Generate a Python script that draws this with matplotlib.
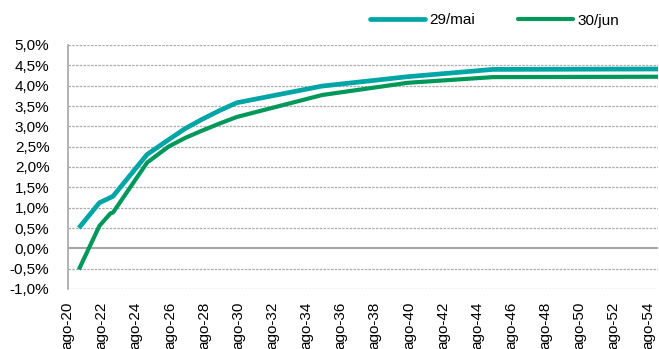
import matplotlib
matplotlib.use("Agg")
import matplotlib.pyplot as plt
from matplotlib.lines import Line2D

plt.rcParams['font.family'] = ['Liberation Sans', 'DejaVu Sans']

# maturities as decimal years (ago-20 = Aug 2020)
dates = [2021.25, 2022.45, 2023.10, 2023.25, 2025.25, 2026.5, 2027.5, 2028.5,
         2029.5, 2030.5, 2035.5, 2040.5, 2045.5, 2055.5]
mai29 = [0.50, 1.12, 1.25, 1.28, 2.31, 2.67, 2.95, 3.18, 3.39, 3.58, 3.99, 4.22, 4.40, 4.41]
jun30 = [-0.52, 0.55, 0.86, 0.88, 2.11, 2.50, 2.72, 2.90, 3.07, 3.23, 3.77, 4.07, 4.21, 4.22]

tick_years = list(range(2020, 2056, 2))
tick_labels = [f"ago-{y % 100:02d}" for y in tick_years]
yticks = [-1.0, -0.5, 0.0, 0.5, 1.0, 1.5, 2.0, 2.5, 3.0, 3.5, 4.0, 4.5, 5.0]

teal = "#00A5A6"
green = "#00975A"

fig = plt.figure(figsize=(6.59, 3.49), dpi=100)
ax = fig.add_axes([67.5 / 659, 1 - 289 / 349, (658 - 67.5) / 659, (289 - 45) / 349])

ax.plot(dates, mai29, color=teal, lw=3.4, solid_capstyle='butt', solid_joinstyle='round', zorder=3, clip_on=True)
ax.plot(dates, jun30, color=green, lw=3.0, solid_capstyle='butt', solid_joinstyle='round', zorder=3, clip_on=True)

x0 = 2020 + 7 / 12
ax.set_xlim(x0, x0 + (658 - 67.5) / 17.07)
ax.set_ylim(-1.0, 5.0)

ax.set_xticks([y + 7 / 12 for y in tick_years])
ax.set_xticklabels(tick_labels, rotation=90, fontsize=11)
ax.set_yticks(yticks)
ax.set_yticklabels([f"{v:.1f}%".replace('.', ',') for v in yticks], fontsize=11)
ax.tick_params(axis='both', length=0)
ax.tick_params(axis='y', pad=13)
ax.tick_params(axis='x', pad=9)

for v in yticks:
    if v == 0:
        ax.axhline(v, color="#A6A6A6", lw=1.5, zorder=2)
    else:
        ax.axhline(v, color="#ABABAB", lw=0.9, ls=(0, (2, 1)), zorder=1)

for s in ['top', 'right', 'bottom']:
    ax.spines[s].set_visible(False)
ax.spines['left'].set_color("#A6A6A6")
ax.spines['left'].set_linewidth(1.2)

handles = [Line2D([], [], color=teal, lw=3.4, solid_capstyle='round'),
           Line2D([], [], color=green, lw=3.0, solid_capstyle='round')]
fig.legend(handles, ["29/mai", "30/jun"], loc='center left', bbox_to_anchor=(370 / 659, 1 - 20.5 / 349),
           ncol=2, frameon=False, fontsize=11, handlelength=3.6, handletextpad=0.3,
           columnspacing=2.8, borderpad=0, borderaxespad=0)

fig.savefig("out.png", dpi=100)
